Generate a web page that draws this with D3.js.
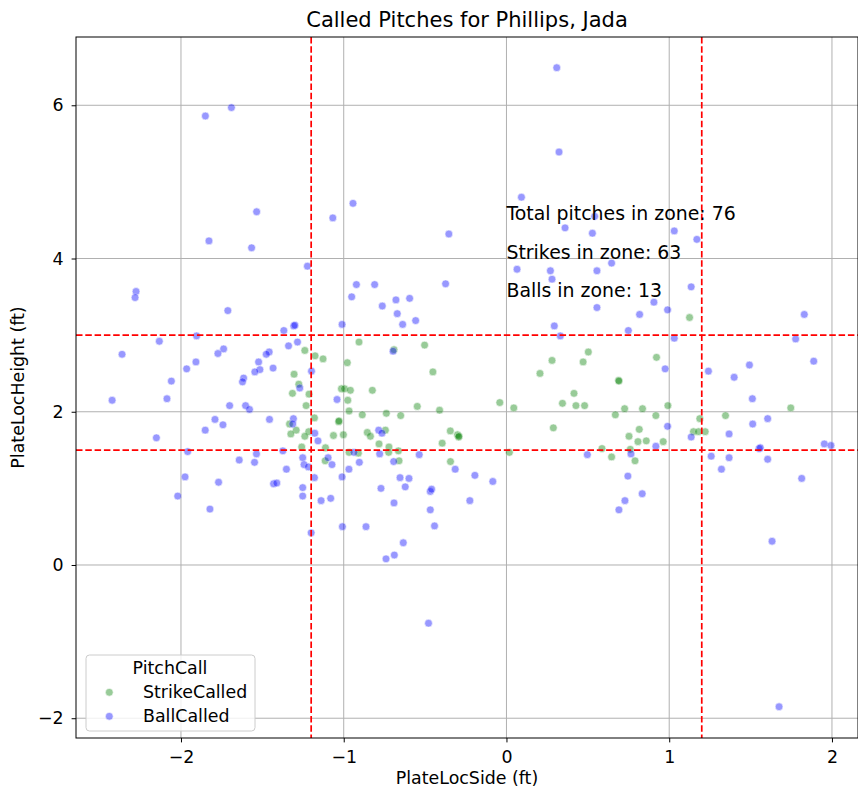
<!DOCTYPE html>
<html>
<head>
<meta charset="utf-8">
<script src="https://cdn.jsdelivr.net/npm/d3@7"></script>
<style>
  html, body { margin: 0; padding: 0; background: #fff; }
  svg { display: block; font-family: "DejaVu Sans", sans-serif; }
</style>
</head>
<body>
<svg id="chart" width="858" height="790"></svg>
<script>
// Called pitches: [PlateLocSide, PlateLocHeight] in feet
const strikeCalled = [
  [-0.906, 2.91], [-1.239, 2.80], [-1.176, 2.73], [-1.127, 2.69], [-0.978, 2.64],
  [-1.305, 2.49], [-1.276, 2.36], [-1.315, 2.24], [-1.213, 2.23], [-1.014, 2.30],
  [-0.995, 2.30], [-0.959, 2.28], [-0.824, 2.28], [-1.231, 2.08], [-0.975, 2.15],
  [-0.967, 2.01], [-1.180, 1.92], [-0.886, 1.96], [-1.031, 1.87], [-1.029, 1.88],
  [-1.333, 1.84], [-1.292, 1.76], [-1.325, 1.71], [-1.215, 1.74], [-1.239, 1.68],
  [-1.063, 1.69], [-1.002, 1.70], [-0.855, 1.73], [-0.836, 1.68], [-1.258, 1.54],
  [-1.112, 1.53], [-0.967, 1.47], [-0.910, 1.46], [-1.114, 1.36],
  [-0.691, 2.81], [-0.503, 2.87], [-0.452, 2.52], [-0.548, 2.07], [-0.411, 2.02],
  [-0.738, 1.98], [-0.650, 1.95], [-0.041, 2.12], [0.045, 2.05], [-0.744, 1.76],
  [-0.783, 1.58], [-0.722, 1.54], [-0.724, 1.47], [-0.664, 1.49], [-0.660, 1.36],
  [-0.345, 1.75], [-0.301, 1.70], [-0.294, 1.67], [-0.292, 1.68], [-0.395, 1.59],
  [-0.344, 1.35], [0.018, 1.47], [0.280, 2.67], [0.206, 2.50], [0.503, 2.78],
  [0.471, 2.65], [0.689, 2.41], [0.691, 2.40], [0.922, 2.71], [0.415, 2.24],
  [0.344, 2.11], [0.427, 2.08], [0.480, 2.08], [0.726, 2.04], [0.836, 2.04],
  [0.992, 2.08], [0.669, 1.96], [0.918, 1.95], [0.288, 1.79], [0.753, 1.68],
  [0.816, 1.77], [0.808, 1.61], [0.859, 1.62], [0.963, 1.61], [0.587, 1.52],
  [0.646, 1.41], [0.761, 1.51], [0.790, 1.36],
  [1.125, 3.23], [1.747, 2.05], [1.346, 1.95], [1.188, 1.91], [1.149, 1.74],
  [1.180, 1.74], [1.221, 1.74]
];

const ballCalled = [
  [-1.850, 5.86], [-1.690, 5.97], [-1.535, 4.61], [-1.828, 4.23], [-1.566, 4.14],
  [-1.067, 4.53], [-0.943, 4.72], [-1.223, 3.90],
  [0.309, 6.49], [0.323, 5.39], [0.092, 4.80], [-0.354, 4.32], [0.360, 4.40],
  [0.528, 4.33], [0.542, 4.55], [0.646, 3.94], [0.065, 3.86], [0.270, 3.84],
  [0.556, 3.84], [0.280, 3.73], [1.031, 4.36], [1.170, 4.25],
  [-2.276, 3.57], [-2.282, 3.49], [-1.712, 3.32], [-1.307, 3.12], [-1.300, 3.13],
  [-1.368, 3.06], [-1.904, 2.99], [-2.133, 2.92], [-1.339, 2.86], [-1.284, 2.91],
  [-1.458, 2.78], [-1.476, 2.75], [-1.738, 2.82], [-1.773, 2.76], [-2.362, 2.75],
  [-1.908, 2.65], [-1.965, 2.56], [-1.523, 2.65], [-1.515, 2.55], [-1.546, 2.52],
  [-1.434, 2.57], [-1.198, 2.53], [-2.059, 2.40], [-1.615, 2.44], [-1.622, 2.39],
  [-1.270, 2.31], [-2.423, 2.15], [-2.086, 2.17], [-1.701, 2.08], [-1.603, 2.08],
  [-1.579, 2.03], [-1.041, 2.16], [-1.456, 1.90], [-1.309, 1.91], [-1.313, 1.84],
  [-1.791, 1.90], [-1.742, 1.83], [-1.851, 1.76], [-2.151, 1.66], [-1.959, 1.48],
  [-1.374, 1.49], [-1.178, 1.72], [-1.158, 1.62], [-1.642, 1.37], [-1.548, 1.34],
  [-1.536, 1.45], [-1.252, 1.40], [-1.244, 1.31], [-1.096, 1.40], [-1.072, 1.31],
  [-1.352, 1.25], [-1.217, 1.28], [-0.937, 1.47], [-0.904, 1.34], [-0.968, 1.25],
  [-0.922, 3.66], [-0.810, 3.66], [-0.951, 3.50], [-1.010, 3.14],
  [-0.374, 3.67], [-0.763, 3.38], [-0.679, 3.46], [-0.595, 3.48], [-0.671, 3.28],
  [-0.638, 3.14], [-0.558, 3.19], [-0.697, 2.79], [-0.785, 1.76], [-0.765, 1.72],
  [-0.779, 1.45], [-0.693, 1.35], [-0.536, 1.44], [-0.315, 1.25], [0.556, 3.36],
  [0.294, 3.12], [0.331, 2.99], [0.818, 3.27], [0.749, 3.06], [0.906, 3.43],
  [0.990, 3.33], [0.975, 2.56], [0.918, 1.55], [0.765, 1.45], [0.497, 1.44],
  [0.990, 1.81],
  [1.135, 3.63], [1.031, 2.96], [1.830, 3.27], [1.777, 2.95], [1.888, 2.66],
  [1.241, 2.53], [1.493, 2.61], [1.399, 2.45], [1.511, 2.17], [1.513, 1.84],
  [1.605, 1.91], [1.368, 1.71], [1.135, 1.67], [1.552, 1.52], [1.560, 1.53],
  [1.953, 1.58], [1.994, 1.56], [1.258, 1.42], [1.368, 1.40], [1.605, 1.38],
  [1.321, 1.25],
  [-1.975, 1.15], [-1.769, 1.08], [-1.431, 1.06], [-1.411, 1.07], [-1.180, 1.14],
  [-1.010, 1.15], [-1.252, 1.01], [-1.252, 0.90], [-2.020, 0.90], [-1.822, 0.73],
  [-1.139, 0.84], [-1.080, 0.87], [-1.200, 0.42], [-1.008, 0.50], [-0.863, 0.50],
  [-0.194, 1.17], [-0.084, 1.09], [-0.654, 1.14], [-0.599, 1.13], [-0.771, 1.00],
  [-0.622, 1.02], [-0.468, 0.96], [-0.460, 0.99], [-0.691, 0.81], [-0.468, 0.72],
  [-0.225, 0.84], [-0.442, 0.51], [-0.634, 0.29], [-0.689, 0.13], [-0.740, 0.08],
  [-0.479, -0.76], [0.746, 1.16], [0.834, 0.93], [0.728, 0.84], [0.691, 0.72],
  [1.814, 1.13], [1.632, 0.31], [1.675, -1.85]
];

const xTicks = [-2, -1, 0, 1, 2];
const yTicks = [-2, 0, 2, 4, 6];
const zoneSide = [-1.2, 1.2];
const zoneHeight = [1.5, 3.0];
const callNames = ["StrikeCalled", "BallCalled"];
const callColors = ["#008000", "#0000ff"];

const svg = d3.select("#chart");
const plot = { left: 76, top: 37, right: 858, bottom: 738 };

const x = d3.scaleLinear().domain([-2.645, 2.16]).range([plot.left, plot.right]);
const y = d3.scaleLinear().domain([-2.258, 6.891]).range([plot.bottom, plot.top]);

const minus = v => d3.format("d")(v).replace("-", "\u2212");

// grid
const grid = svg.append("g");
grid.selectAll(".gx").data(xTicks).join("line")
  .attr("x1", d => x(d)).attr("x2", d => x(d))
  .attr("y1", plot.top).attr("y2", plot.bottom)
  .attr("stroke", "#b0b0b0").attr("stroke-width", 1);
grid.selectAll(".gy").data(yTicks).join("line")
  .attr("y1", d => y(d)).attr("y2", d => y(d))
  .attr("x1", plot.left).attr("x2", plot.right)
  .attr("stroke", "#b0b0b0").attr("stroke-width", 1);

// points
svg.append("clipPath").attr("id", "plotclip").append("rect")
  .attr("x", plot.left).attr("y", plot.top)
  .attr("width", plot.right - plot.left).attr("height", plot.bottom - plot.top);
const pts = svg.append("g").attr("clip-path", "url(#plotclip)");
[strikeCalled, ballCalled].forEach((series, i) => {
  pts.append("g").selectAll("circle").data(series).join("circle")
    .attr("cx", d => x(d[0])).attr("cy", d => y(d[1]))
    .attr("r", 3.9)
    .attr("fill", callColors[i])
    .attr("stroke", "#ffffff").attr("stroke-width", 0.6)
    .attr("opacity", 0.4);
});

// strike zone edges
const zone = svg.append("g");
zone.selectAll(".zx").data(zoneSide).join("line")
  .attr("x1", d => x(d)).attr("x2", d => x(d))
  .attr("y1", plot.top).attr("y2", plot.bottom)
  .attr("stroke", "#ff0000").attr("stroke-width", 1.7).attr("stroke-dasharray", "6.5,2.8");
zone.selectAll(".zy").data(zoneHeight).join("line")
  .attr("y1", d => y(d)).attr("y2", d => y(d))
  .attr("x1", plot.left).attr("x2", plot.right)
  .attr("stroke", "#ff0000").attr("stroke-width", 1.7).attr("stroke-dasharray", "6.5,2.8");

// zone counts
const inZone = d => d[0] >= zoneSide[0] && d[0] <= zoneSide[1] && d[1] >= zoneHeight[0] && d[1] <= zoneHeight[1];
const strikesIn = strikeCalled.filter(inZone).length;
const ballsIn = ballCalled.filter(inZone).length;
const notes = [
  ["Total pitches in zone: " + (strikesIn + ballsIn), 4.5],
  ["Strikes in zone: " + strikesIn, 4.0],
  ["Balls in zone: " + ballsIn, 3.5]
];
svg.append("g").selectAll("text").data(notes).join("text")
  .attr("x", x(0)).attr("y", d => y(d[1]))
  .attr("font-size", "18.9px").attr("fill", "#000")
  .text(d => d[0]);

// axes
const xAxis = svg.append("g").attr("transform", `translate(0,${plot.bottom})`)
  .call(d3.axisBottom(x).tickValues(xTicks).tickFormat(minus).tickSize(4.4).tickPadding(8));
const yAxis = svg.append("g").attr("transform", `translate(${plot.left},0)`)
  .call(d3.axisLeft(y).tickValues(yTicks).tickFormat(minus).tickSize(4.4).tickPadding(8));
[xAxis, yAxis].forEach(a => {
  a.select(".domain").remove();
  a.selectAll("line").attr("stroke", "#000").attr("stroke-width", 1);
  a.selectAll("text").attr("font-size", "17.4px").attr("fill", "#000")
    .attr("font-family", "DejaVu Sans, sans-serif");
});

// spines
svg.append("rect")
  .attr("x", plot.left).attr("y", plot.top)
  .attr("width", plot.right - plot.left).attr("height", plot.bottom - plot.top)
  .attr("fill", "none").attr("stroke", "#000").attr("stroke-width", 1);

// titles
svg.append("text").attr("x", (plot.left + plot.right) / 2).attr("y", 27)
  .attr("text-anchor", "middle").attr("font-size", "21px").text("Called Pitches for Phillips, Jada");
svg.append("text").attr("x", (plot.left + plot.right) / 2).attr("y", 784)
  .attr("text-anchor", "middle").attr("font-size", "17.4px").text("PlateLocSide (ft)");
svg.append("text").attr("transform", `translate(24,${(plot.top + plot.bottom) / 2}) rotate(-90)`)
  .attr("text-anchor", "middle").attr("font-size", "17.4px").text("PlateLocHeight (ft)");

// legend
const lg = svg.append("g").attr("transform", "translate(86,655)");
lg.append("rect").attr("width", 169).attr("height", 76).attr("rx", 3.5)
  .attr("fill", "#fff").attr("fill-opacity", 0.8)
  .attr("stroke", "#cccccc").attr("stroke-width", 1);
lg.append("text").attr("x", 84).attr("y", 19).attr("text-anchor", "middle")
  .attr("font-size", "17.4px").text("PitchCall");
callNames.forEach((name, i) => {
  const row = lg.append("g").attr("transform", `translate(0,${37.3 + i * 24})`);
  row.append("circle").attr("cx", 23.3).attr("cy", 0).attr("r", 3.9)
    .attr("fill", callColors[i]).attr("stroke", "#fff").attr("stroke-width", 0.6).attr("opacity", 0.4);
  row.append("text").attr("x", 57).attr("y", 6).attr("font-size", "17.4px").text(name);
});
</script>
</body>
</html>
